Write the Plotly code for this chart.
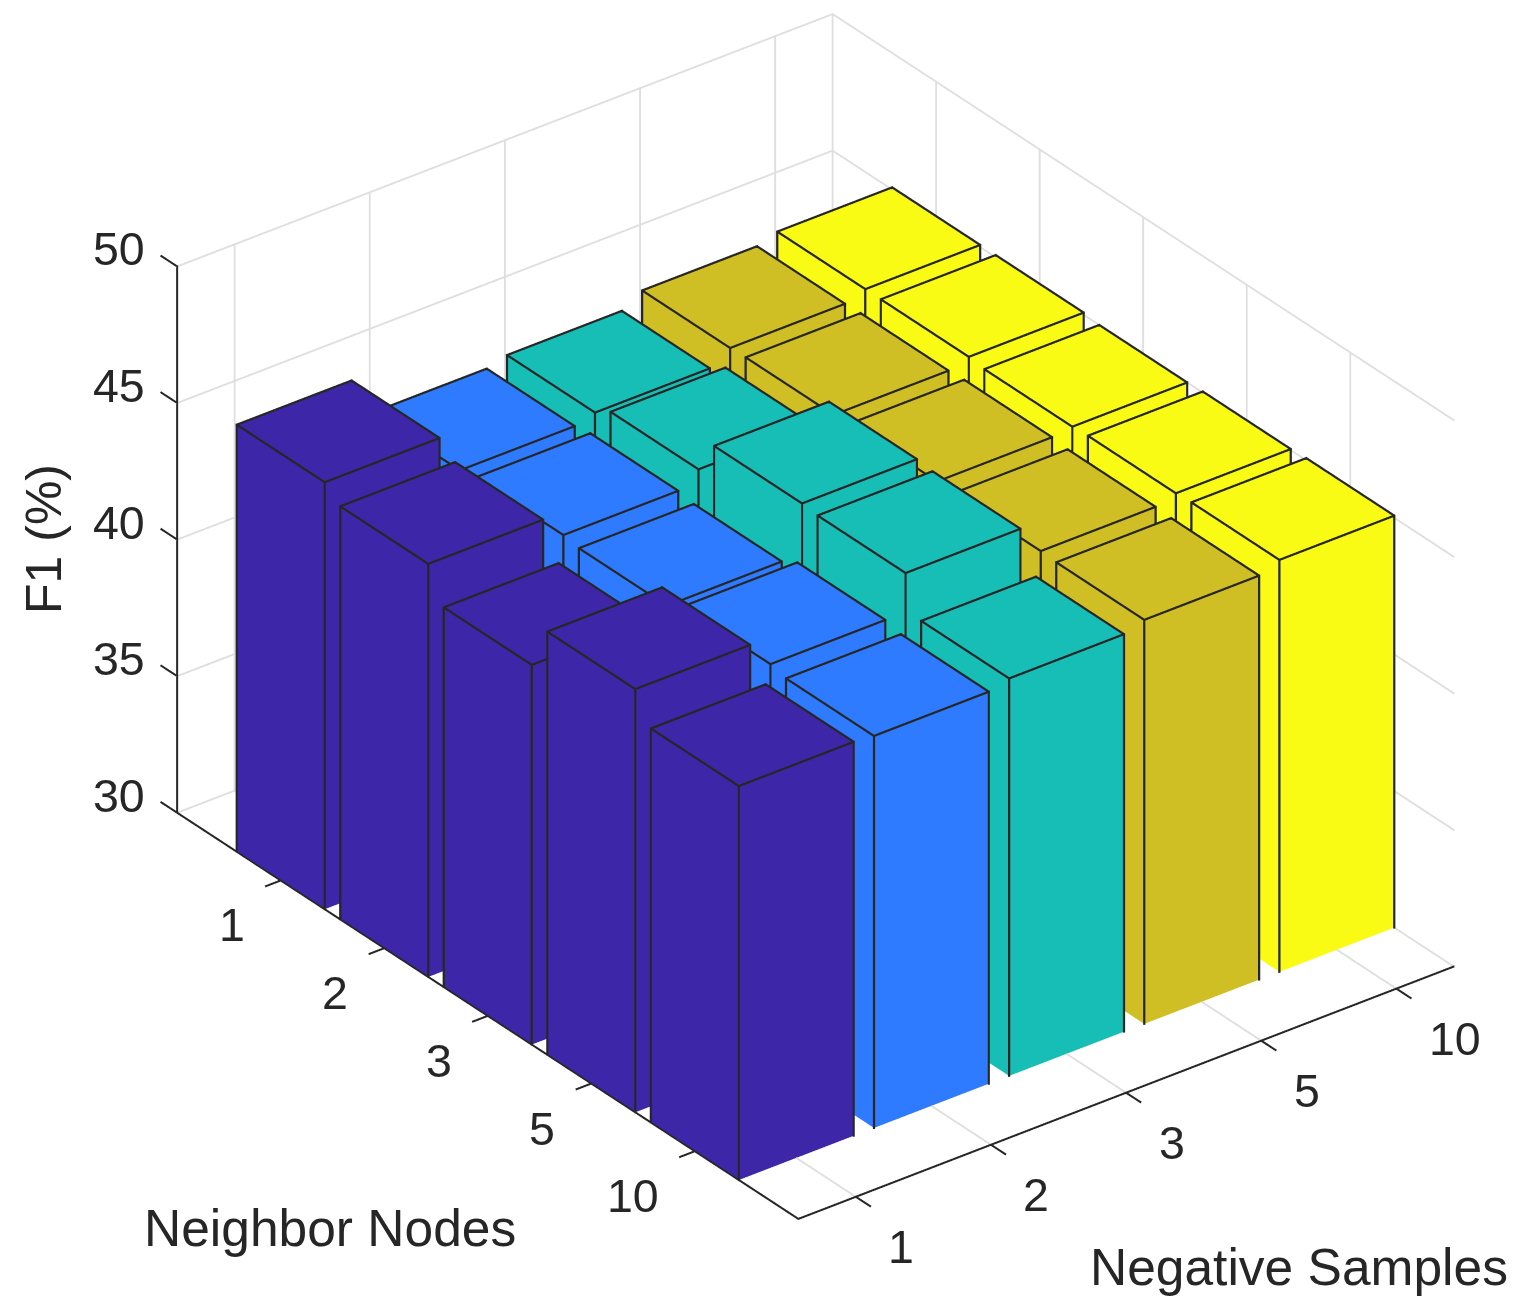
import math
import plotly.graph_objects as go

neighbor_nodes = ["1", "2", "3", "5", "10"]
negative_samples = ["1", "2", "3", "5", "10"]
f1_ticks = [30, 35, 40, 45, 50]
f1_neg1 = [45.63, 45.12, 43.90, 45.49, 44.42]
f1_neg2 = [44.16, 44.27, 44.16, 44.50, 44.35]
f1_neg3 = [44.37, 44.77, 46.00, 45.93, 44.55]
f1_neg4 = [44.83, 44.86, 44.90, 44.83, 44.79]
f1_neg5 = [45.08, 45.08, 45.00, 45.04, 45.08]
series = [f1_neg1, f1_neg2, f1_neg3, f1_neg4, f1_neg5]
colors = ["#3E26A8", "#2F7BFF", "#17BEB6", "#CFBF25", "#F9FB15"]
W = 0.425
XR = [0, 6]
YR = [0.575, 5.425]
ZR = [30, 50]
PAD_X, PAD_Y, PAD_Z = 0.3, 0.2, 1.0
INK = "#262626"
GRID = "#DEDEDE"
FONT = "Liberation Sans"
BASE = ZR[0]
pos = [1, 2, 3, 4, 5]
EYE = (0.6862, -0.5266, 0.50175)
PX = (1019 / 6, 825 / 4.85, 630.5 / 20)  # screen pixels per data unit along each axis

fig = go.Figure()
_en = math.sqrt(sum(c * c for c in EYE))
VIEW = tuple(c / _en for c in EYE)


def ribbons(segs, color, width, push):
    """Edges as thin view-facing quads, because WebGL line width is capped at 1 px."""
    vx, vy, vz, ii, jj, kk = [], [], [], [], [], []
    for p, q in segs:
        a = [p[t] * PX[t] for t in range(3)]
        b = [q[t] * PX[t] for t in range(3)]
        d = [b[t] - a[t] for t in range(3)]
        ln = math.sqrt(sum(c * c for c in d))
        d = [c / ln for c in d]
        nn = [d[1] * VIEW[2] - d[2] * VIEW[1], d[2] * VIEW[0] - d[0] * VIEW[2], d[0] * VIEW[1] - d[1] * VIEW[0]]
        nl = math.sqrt(sum(c * c for c in nn))
        nn = [c / nl * width / 2 for c in nn]
        ext = [c * width / 2 for c in d]
        n0 = len(vx)
        for base, e, sign in [(a, -1, 1), (a, -1, -1), (b, 1, -1), (b, 1, 1)]:
            pt = [(base[t] + e * ext[t] + sign * nn[t] + push * VIEW[t]) / PX[t] for t in range(3)]
            vx.append(pt[0]); vy.append(pt[1]); vz.append(pt[2])
        ii += [n0, n0]; jj += [n0 + 1, n0 + 2]; kk += [n0 + 2, n0 + 3]
    fig.add_trace(go.Mesh3d(x=vx, y=vy, z=vz, i=ii, j=jj, k=kk, color=color, flatshading=True,
                            lighting=dict(ambient=1, diffuse=0, specular=0, fresnel=0, roughness=1),
                            hoverinfo="skip", showscale=False))


# walls and floor grid
grid = []
for v in pos:
    grid.append(((v, YR[0], BASE), (v, YR[1], BASE)))
    grid.append(((XR[0], v, BASE), (XR[1], v, BASE)))
    grid.append(((XR[0], v, ZR[0]), (XR[0], v, ZR[1])))
    grid.append(((v, YR[1], ZR[0]), (v, YR[1], ZR[1])))
for t in f1_ticks:
    grid.append(((XR[0], YR[0], t), (XR[0], YR[1], t)))
    grid.append(((XR[0], YR[1], t), (XR[1], YR[1], t)))
grid.append(((XR[0], YR[1], ZR[0]), (XR[0], YR[1], ZR[1])))
ribbons(grid, GRID, 1.8, 0.5)

# axis lines and ticks
ax = [((XR[0], YR[0], BASE), (XR[1], YR[0], BASE)),
      ((XR[1], YR[0], BASE), (XR[1], YR[1], BASE)),
      ((XR[0], YR[0], ZR[0]), (XR[0], YR[0], ZR[1]))]
for v in pos:
    ax.append(((v, YR[0], BASE), (v, YR[0] - 0.11, BASE)))
    ax.append(((XR[1], v, BASE), (XR[1] + 0.14, v, BASE)))
for t in f1_ticks:
    ax.append(((XR[0], YR[0], t), (XR[0] - 0.155, YR[0], t)))
ribbons(ax, INK, 2.0, 1)

# bars
for j, (vals, col) in enumerate(zip(series, colors), start=1):
    vx, vy, vz, ii, jj, kk = [], [], [], [], [], []
    segs = []
    for i, v in enumerate(vals, start=1):
        n = len(vx)
        x0, x1, y0, y1 = i - W, i + W, j - W, j + W
        vx += [x0, x1, x1, x0, x0, x1, x1, x0]
        vy += [y0, y0, y1, y1, y0, y0, y1, y1]
        vz += [BASE] * 4 + [v] * 4
        for a, b, c in [(0,1,2),(0,2,3),(4,5,6),(4,6,7),(0,1,5),(0,5,4),
                        (1,2,6),(1,6,5),(2,3,7),(2,7,6),(3,0,4),(3,4,7)]:
            ii.append(n + a); jj.append(n + b); kk.append(n + c)
        for a, b in [(4,5),(5,6),(6,7),(7,4),(0,4),(1,5),(2,6),(3,7)]:
            segs.append(((vx[n + a], vy[n + a], vz[n + a]), (vx[n + b], vy[n + b], vz[n + b])))
    fig.add_trace(go.Mesh3d(x=vx, y=vy, z=vz, i=ii, j=jj, k=kk, color=col, flatshading=True,
                            lighting=dict(ambient=1, diffuse=0, specular=0, fresnel=0, roughness=1),
                            hoverinfo="skip", showscale=False))
    ribbons(segs, INK, 2.2, 4)

tick_font = dict(family=FONT, size=46.5, color=INK)
scene_notes = []
for v, s in zip(pos, neighbor_nodes):
    scene_notes.append(dict(x=v, y=YR[0], z=BASE, text=s, xanchor="right", xshift=-34, yshift=-45))
for v, s in zip(pos, negative_samples):
    scene_notes.append(dict(x=XR[1], y=v, z=BASE, text=s, xanchor="left", xshift=30.5, yshift=-50.5))
for t in f1_ticks:
    scene_notes.append(dict(x=XR[0], y=YR[0], z=t, text=str(t), xanchor="right", xshift=-30, yshift=17))
for n in scene_notes:
    n.update(showarrow=False, font=tick_font, yanchor="middle")

axis = dict(showbackground=False, showgrid=False, showline=False, ticks="", showticklabels=False,
            showspikes=False, zeroline=False, title=dict(text=""))
fig.update_layout(
    width=1522, height=1312, margin=dict(l=0, r=0, t=0, b=0), paper_bgcolor="white",
    showlegend=False,
    scene=dict(
        domain=dict(x=[0.0715, 1], y=[0.0610, 0.9992]),
        xaxis=dict(axis, range=[XR[0] - PAD_X, XR[1] + PAD_X], tickmode="array", tickvals=pos, ticktext=neighbor_nodes),
        yaxis=dict(axis, range=[YR[0] - PAD_Y, YR[1] + PAD_Y], tickmode="array", tickvals=pos, ticktext=negative_samples),
        zaxis=dict(axis, range=[ZR[0] - PAD_Z, ZR[1] + PAD_Z], tickmode="array", tickvals=f1_ticks),
        aspectmode="manual",
        aspectratio=dict(x=1.6577 * (6 + 2 * PAD_X) / 6,
                         y=1.3423 * (4.85 + 2 * PAD_Y) / 4.85,
                         z=1.0262 * (20 + 2 * PAD_Z) / 20),
        camera=dict(projection=dict(type="orthographic"), up=dict(x=0, y=0, z=1),
                    center=dict(x=0, y=0, z=0), eye=dict(x=EYE[0] * 3, y=EYE[1] * 3, z=EYE[2] * 3)),
        annotations=scene_notes,
    ),
    annotations=[
        dict(text="Neighbor Nodes", x=330, y=1228, font=dict(size=51.5)),
        dict(text="Negative Samples", x=1299, y=1267, font=dict(size=51.5)),
        dict(text="F1 (%)", x=44, y=539, textangle=-90, font=dict(size=50)),
    ],
)
for a in fig.layout.annotations:
    a.update(xref="paper", yref="paper", x=a.x / 1522, y=1 - a.y / 1312, showarrow=False,
             xanchor="center", yanchor="middle")
    a.font.family = FONT
    a.font.color = INK
fig.write_html("out.html", post_script="document.body.style.margin='0';", config=dict(displayModeBar=False))
